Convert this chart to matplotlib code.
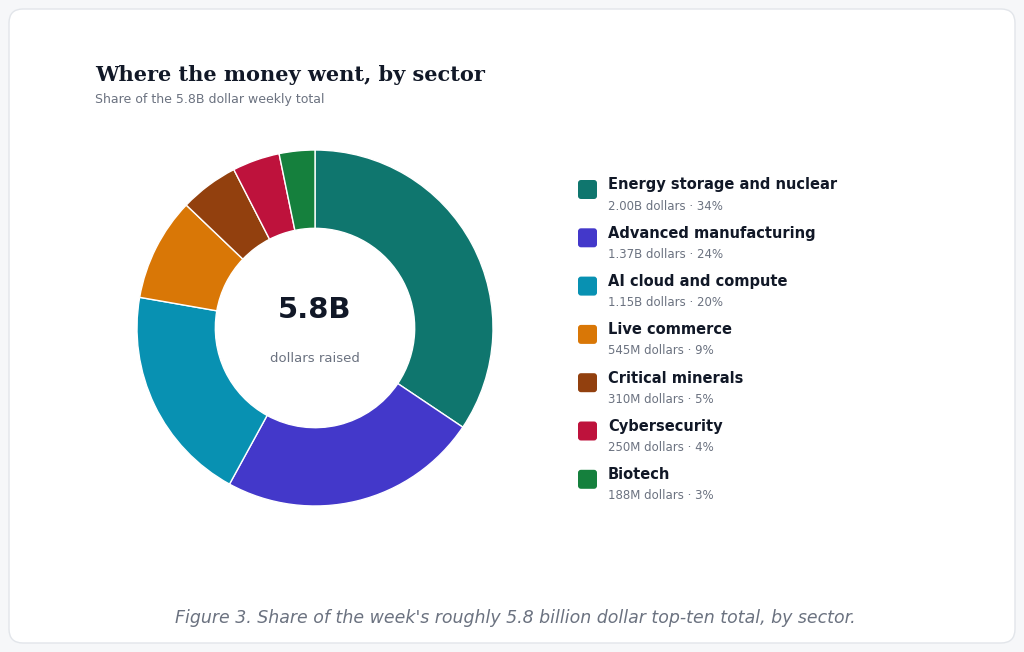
import matplotlib
matplotlib.use("Agg")
import matplotlib.pyplot as plt
from matplotlib.patches import FancyBboxPatch

sectors = ["Energy storage and nuclear", "Advanced manufacturing", "AI cloud and compute",
           "Live commerce", "Critical minerals", "Cybersecurity", "Biotech"]
values_b = [2.00, 1.37, 1.15, 0.545, 0.310, 0.250, 0.188]
amount_labels = ["2.00B", "1.37B", "1.15B", "545M", "310M", "250M", "188M"]
pct_labels = ["34%", "24%", "20%", "9%", "5%", "4%", "3%"]
colors = ["#0f766e", "#4338ca", "#0891b2", "#d97706", "#92400e", "#be123c", "#15803d"]

W, H = 1024, 652
fig = plt.figure(figsize=(W/100, H/100), dpi=100)
fig.patch.set_facecolor("#f6f7f9")
bg = fig.add_axes([0, 0, 1, 1]); bg.set_xlim(0, W); bg.set_ylim(H, 0); bg.axis("off")
bg.add_patch(FancyBboxPatch((9, 9), W-18, H-18, boxstyle="round,pad=0,rounding_size=14",
                            fc="white", ec="#e2e5ea", lw=1))

bg.text(95, 75, "Where the money went, by sector", fontsize=15, fontweight="bold",
        family="DejaVu Serif", color="#111827", va="center")
bg.text(95, 100, "Share of the 5.8B dollar weekly total", fontsize=9, color="#6b7280", va="center")
bg.text(515, 618, "Figure 3. Share of the week's roughly 5.8 billion dollar top-ten total, by sector.",
        fontsize=12.5, style="italic", color="#6b7280", ha="center", va="center")

cx, cy, r = 315, 328, 178
ax = fig.add_axes([(cx-r)/W, (H-cy-r)/H, 2*r/W, 2*r/H])
ax.pie(values_b, colors=colors, startangle=90, counterclock=False, radius=1,
       wedgeprops=dict(width=0.44, edgecolor="white", linewidth=1))
ax.set_xlim(-1, 1); ax.set_ylim(-1, 1); ax.set_aspect("auto"); ax.axis("off")
ax.text(0, 0.1, "5.8B", fontsize=21, fontweight="bold", color="#111827", ha="center", va="center")
ax.text(0, -0.17, "dollars raised", fontsize=9.5, color="#6b7280", ha="center", va="center")

for i, s in enumerate(sectors):
    y = 189 + i*48.3
    bg.add_patch(FancyBboxPatch((578, y-9), 19, 19, boxstyle="round,pad=0,rounding_size=3",
                                fc=colors[i], ec="none"))
    bg.text(608, y-4, s, fontsize=10.5, fontweight="bold", color="#111827", va="center")
    bg.text(608, y+17, f"{amount_labels[i]} dollars · {pct_labels[i]}", fontsize=8.5,
            color="#6b7280", va="center")

fig.savefig("out.png", dpi=100, facecolor=fig.get_facecolor())
